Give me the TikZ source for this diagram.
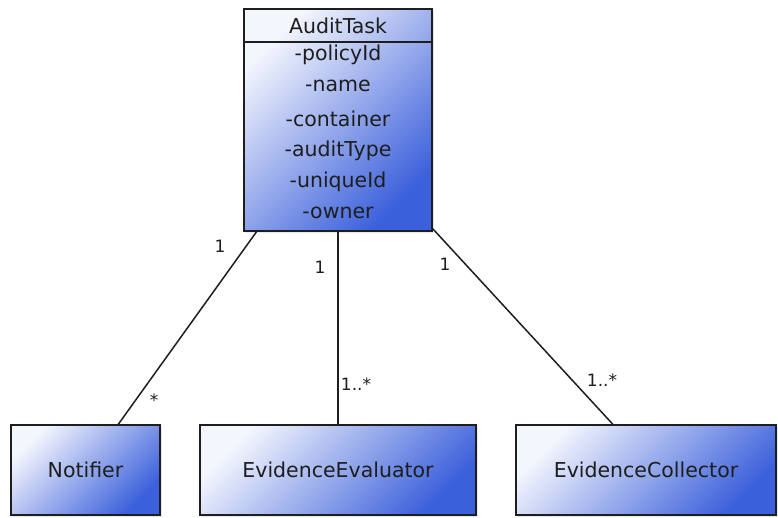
\documentclass[tikz,border=0pt]{standalone}
\usepackage{fontspec}
\setmainfont{DejaVu Sans}
\usetikzlibrary{calc,shadows}
\definecolor{boxlight}{HTML}{F4F6FD}
\definecolor{boxdark}{HTML}{3B60DB}
\definecolor{ink}{HTML}{1E1E1E}
\tikzset{
  classbox/.style={draw=ink, line width=1.5pt, shading=axis, top color=boxlight,
    bottom color=boxdark, shading angle=45, inner sep=0pt,
    drop shadow={opacity=0.18, shadow xshift=2pt, shadow yshift=-2pt}},
  classname/.style={text=ink, font=\fontsize{20.5}{24}\selectfont},
  attr/.style={text=ink, font=\fontsize{20.5}{24}\selectfont, inner sep=0pt},
  mult/.style={text=ink, font=\fontsize{17}{20}\selectfont, inner sep=0pt},
  assoc/.style={draw=ink, line width=1.5pt}
}
\begin{document}
\begin{tikzpicture}[x=1pt, y=-1pt]
  \useasboundingbox (0,0) rectangle (778,518);

  % AuditTask class with its attribute compartment
  \node[classbox, minimum width=188pt, minimum height=222pt] (task) at (338,120) {};
  \draw[ink, line width=1.5pt] (task.west |- 0,42) coordinate (hl) -- (task.east |- 0,42) coordinate (hr);
  \node[classname] (taskname) at (338,25.5) {AuditTask};
  \node[attr] (a1) at (338,55) {-policyId};
  \node[attr] (a2) at (338,86) {-name};
  \node[attr] (a3) at (338,119) {-container};
  \node[attr] (a4) at (338,151) {-auditType};
  \node[attr] (a5) at (338,182) {-uniqueId};
  \node[attr] (a6) at (338,213) {-owner};

  % Associated classes
  \node[classbox, minimum width=149pt, minimum height=90pt, classname] (notifier) at (85.5,470) {Notifier};
  \node[classbox, minimum width=276pt, minimum height=90pt, classname] (evaluator) at (338,470) {EvidenceEvaluator};
  \node[classbox, minimum width=260pt, minimum height=90pt, classname] (collector) at (646,470) {EvidenceCollector};

  % Associations
  \draw[assoc] ($(task.south west)!0.07!(task.south east)$) -- ($(notifier.north west)!0.718!(notifier.north east)$);
  \draw[assoc] (task.south) -- (evaluator.north);
  \draw[assoc] ($(task.south east)+(0,-3)$) -- ($(collector.north west)!0.373!(collector.north east)$);

  % Multiplicities
  \node[mult] (m1) at (220,246) {1};
  \node[mult] (m2) at (154,400) {*};
  \node[mult] (m3) at (320,267) {1};
  \node[mult] (m4) at (356,384) {1..*};
  \node[mult] (m5) at (445,264) {1};
  \node[mult] (m6) at (602,380) {1..*};
\end{tikzpicture}
\end{document}
